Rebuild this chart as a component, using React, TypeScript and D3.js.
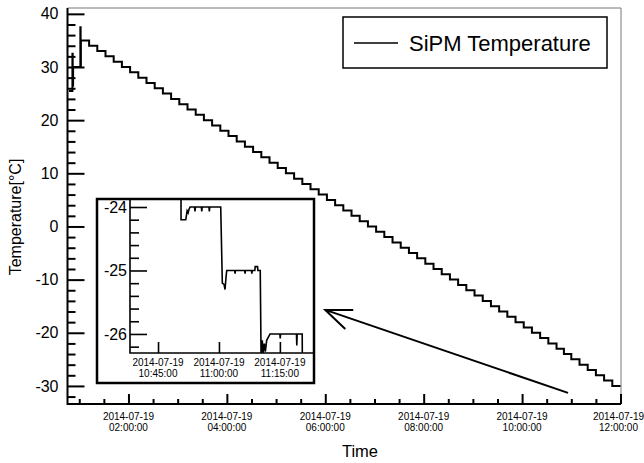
import React, { useEffect, useRef } from 'react';
import * as d3 from 'd3';

const DAY = '2014-07-19';
const FONT = '"Liberation Sans", Arial, Helvetica, sans-serif';

// noisy lead-in before the cool-down starts
const leadTimes = ['00:47:30', '00:51:00', '00:51:40', '00:52:00', '00:52:30', '01:01:00', '01:01:20', '01:01:40'];
const leadTemps = [25.5, 25.5, 32.5, 26.5, 30.0, 30.0, 37.5, 30.0];

// staircase: one level every ~10 minutes
const stepTimes = [
  '01:02', '01:12', '01:22', '01:32', '01:42', '01:52', '02:02', '02:12', '02:22', '02:32', '02:42',
  '02:52', '03:02', '03:12', '03:22', '03:32', '03:42', '03:52', '04:02', '04:12', '04:22', '04:32',
  '04:42', '04:52', '05:02', '05:12', '05:22', '05:32', '05:42', '05:52', '06:02', '06:12', '06:22',
  '06:32', '06:42', '06:52', '07:02', '07:12', '07:22', '07:32', '07:42', '07:52', '08:02', '08:12',
  '08:22', '08:32', '08:42', '08:52', '09:02', '09:12', '09:22', '09:32', '09:42', '09:52', '10:02',
  '10:12', '10:22', '10:32', '10:42', '10:51', '11:00', '11:10', '11:20', '11:30', '11:40', '11:50', '12:00',
];
const stepTemps = [
  35, 34, 33, 32, 31, 30, 29, 28, 27, 26, 25,
  24, 23, 22, 21, 20, 19, 18, 17, 16, 15, 14,
  13, 12, 11, 10, 9, 8, 7, 6, 5, 4, 3,
  2, 1, 0, -1, -2, -3, -4, -5, -6, -7, -8,
  -9, -10, -11, -12, -13, -14, -15, -16, -17, -18, -19,
  -20, -21, -22, -23, -24, -25, -26, -27, -28, -29, -30, -30,
];

// zoomed window, 10:40 - 11:21
const zoomTimes = [
  '10:40:00', '10:50:38', '10:50:40', '10:51:50', '10:52:10', '10:52:25', '10:52:40', '10:52:55',
  '10:54:00', '10:54:06', '10:54:12', '10:55:40', '10:55:46', '10:55:52', '10:57:32', '10:57:38',
  '10:57:44', '11:00:26', '11:00:50', '11:01:15', '11:01:30', '11:01:45', '11:01:55', '11:03:52',
  '11:03:58', '11:04:04', '11:06:20', '11:06:26', '11:06:32', '11:08:00', '11:08:06', '11:08:12',
  '11:08:50', '11:08:55', '11:09:30', '11:09:35', '11:10:10', '11:10:22', '11:10:40', '11:10:52',
  '11:11:10', '11:11:25', '11:11:45', '11:12:10', '11:12:35', '11:15:00', '11:15:05', '11:15:10',
  '11:19:05', '11:19:10', '11:19:15', '11:20:30', '11:20:32',
];
const zoomTemps = [
  -23.0, -23.0, -24.2, -24.2, -24.06, -24.09, -24.03, -24.0,
  -24.0, -24.07, -24.0, -24.0, -24.07, -24.0, -24.0, -24.07,
  -24.0, -24.0, -25.2, -25.22, -25.3, -25.1, -25.0, -25.0,
  -25.05, -25.0, -25.0, -25.05, -25.0, -25.0, -25.05, -25.0,
  -25.0, -24.94, -24.94, -25.0, -25.0, -26.32, -26.1, -26.3,
  -26.15, -26.28, -26.1, -26.05, -26.0, -26.0, -26.07, -26.0,
  -26.0, -26.18, -26.0, -26.0, -26.5,
];

const mainMajor = ['02:00:00', '04:00:00', '06:00:00', '08:00:00', '10:00:00', '12:00:00'];
const mainMinor = ['01:00:00', '01:30:00', '02:30:00', '03:00:00', '03:30:00', '04:30:00', '05:00:00', '05:30:00',
  '06:30:00', '07:00:00', '07:30:00', '08:30:00', '09:00:00', '09:30:00', '10:30:00', '11:00:00', '11:30:00'];
const zoomMajor = ['10:45:00', '11:00:00', '11:15:00'];
const tempMajor = [-30, -20, -10, 0, 10, 20, 30, 40];
const tempMinor = [-32, -28, -26, -24, -22, -18, -16, -14, -12, -8, -6, -4, -2, 2, 4, 6, 8, 12, 14, 16, 18, 22, 24, 26, 28, 32, 34, 36, 38];
const zoomTempMajor = [-26, -25, -24];
const zoomTempMinor = [-26.2, -25.8, -25.6, -25.4, -25.2, -24.8, -24.6, -24.4, -24.2];

const parse = d3.timeParse('%Y-%m-%d %H:%M:%S');
const t = (s: string) => parse(`${DAY} ${s.length === 5 ? s + ':00' : s}`) as Date;

export default function App() {
  const ref = useRef<SVGSVGElement>(null);

  useEffect(() => {
    const svg = d3.select(ref.current);
    svg.selectAll('*').remove();

    const x = d3.scaleTime().domain([t('00:45:40'), t('12:00:00')]).range([67.5, 620.5]);
    const y = d3.scaleLinear().domain([-33.4, 41.1]).range([404, 8]);

    // thin frame top / right
    svg.append('path')
      .attr('d', `M67.5,8H621V404`)
      .attr('fill', 'none').attr('stroke', '#777').attr('stroke-width', 1);

    const main = [
      ...leadTimes.map((s, i) => [t(s), leadTemps[i]] as [Date, number]),
      ...stepTimes.map((s, i) => [t(s), stepTemps[i]] as [Date, number]),
    ];
    const line = d3.line<[Date, number]>()
      .x(d => x(d[0]))
      .y(d => y(d[1]))
      .curve(d3.curveStepAfter);
    svg.append('path')
      .datum(main)
      .attr('d', line)
      .attr('fill', 'none').attr('stroke', '#000').attr('stroke-width', 2);

    // y axis, ticks pointing in
    const yMinor = svg.append('g').attr('transform', 'translate(67.5,0)')
      .call(d3.axisLeft(y).tickValues(tempMinor).tickSize(-8).tickFormat(() => ''));
    const yMajor = svg.append('g').attr('transform', 'translate(67.5,0)')
      .call(d3.axisLeft(y).tickValues(tempMajor).tickSize(-17).tickPadding(9).tickFormat(d => String(d)));
    [yMinor, yMajor].forEach(g => {
      g.selectAll('.domain').remove();
      g.selectAll('line').attr('stroke', '#000').attr('stroke-width', 2);
    });
    yMajor.selectAll('text').attr('font-family', FONT).attr('font-size', 16).attr('fill', '#000');

    // x axis
    const xMinor = svg.append('g').attr('transform', 'translate(0,404)')
      .call(d3.axisBottom(x).tickValues(mainMinor.map(t)).tickSize(-5).tickFormat(() => ''));
    const xMajor = svg.append('g').attr('transform', 'translate(0,404)')
      .call(d3.axisBottom(x).tickValues(mainMajor.map(t)).tickSize(-10).tickFormat(() => ''));
    [xMinor, xMajor].forEach(g => {
      g.selectAll('.domain').remove();
      g.selectAll('line').attr('stroke', '#000').attr('stroke-width', 2);
    });

    svg.append('path').attr('d', 'M67.5,8V404H621')
      .attr('fill', 'none').attr('stroke', '#000').attr('stroke-width', 2);

    // two-line date labels; the last one is nudged so it stays on the page
    const xLab = svg.append('g').attr('font-family', FONT).attr('font-size', 10).attr('text-anchor', 'middle');
    mainMajor.forEach(s => {
      const cx = Math.min(x(t(s)), 618.5);
      const txt = xLab.append('text');
      txt.append('tspan').attr('x', cx).attr('y', 420).text(DAY);
      txt.append('tspan').attr('x', cx).attr('y', 431).text(s);
    });

    svg.append('text').attr('x', 360).attr('y', 457)
      .attr('text-anchor', 'middle').attr('font-family', FONT).attr('font-size', 16.5).text('Time');
    svg.append('text').attr('transform', 'translate(21,217) rotate(-90)')
      .attr('text-anchor', 'middle').attr('font-family', FONT).attr('font-size', 16).text('Temperature[°C]');

    // legend
    svg.append('rect').attr('x', 343).attr('y', 17).attr('width', 264).attr('height', 51)
      .attr('fill', '#fff').attr('stroke', '#000').attr('stroke-width', 1.5);
    svg.append('line').attr('x1', 354).attr('x2', 398).attr('y1', 43).attr('y2', 43)
      .attr('stroke', '#000').attr('stroke-width', 1.6);
    svg.append('text').attr('x', 409).attr('y', 51).attr('font-family', FONT).attr('font-size', 22)
      .text('SiPM Temperature');

    // arrow pointing at the inset
    const tip: [number, number] = [x(t('06:00:00')), y(-15.7)];
    const tail: [number, number] = [x(t('10:56:00')), y(-31.3)];
    svg.append('path')
      .attr('d', `M${tail}L${tip}M${tip[0] + 28},${tip[1]}L${tip}L${tip[0] + 20},${tip[1] + 19}`)
      .attr('fill', 'none').attr('stroke', '#000').attr('stroke-width', 2);

    // inset
    const xi = d3.scaleTime().domain([t('10:38:06'), t('11:23:24')]).range([130, 314]);
    const yi = d3.scaleLinear().domain([-26.3, -23.874]).range([353, 199]);
    svg.append('rect').attr('x', 97).attr('y', 199).attr('width', 217).attr('height', 184)
      .attr('fill', '#fff').attr('stroke', '#000').attr('stroke-width', 2.5);

    svg.append('clipPath').attr('id', 'inset-clip')
      .append('rect').attr('x', 130).attr('y', 199).attr('width', 184).attr('height', 154);
    const zoomData = zoomTimes.map((s, i) => [t(s), zoomTemps[i]] as [Date, number]);
    svg.append('path')
      .datum(zoomData)
      .attr('clip-path', 'url(#inset-clip)')
      .attr('d', d3.line<[Date, number]>().x(d => xi(d[0])).y(d => yi(d[1])))
      .attr('fill', 'none').attr('stroke', '#000').attr('stroke-width', 1.6);

    const yiMinor = svg.append('g').attr('transform', 'translate(130,0)')
      .call(d3.axisLeft(yi).tickValues(zoomTempMinor).tickSize(-9).tickFormat(() => ''));
    const yiMajor = svg.append('g').attr('transform', 'translate(130,0)')
      .call(d3.axisLeft(yi).tickValues(zoomTempMajor).tickSize(-17).tickPadding(3).tickFormat(d => String(d)));
    const xiMajor = svg.append('g').attr('transform', 'translate(0,353)')
      .call(d3.axisBottom(xi).tickValues(zoomMajor.map(t)).tickSize(-11).tickFormat(() => ''));
    [yiMinor, yiMajor, xiMajor].forEach(g => {
      g.selectAll('.domain').remove();
      g.selectAll('line').attr('stroke', '#000').attr('stroke-width', 1.6);
    });
    yiMajor.selectAll('text').attr('font-family', FONT).attr('font-size', 16).attr('fill', '#000');

    svg.append('path').attr('d', 'M130,199V353H314')
      .attr('fill', 'none').attr('stroke', '#000').attr('stroke-width', 1.6);

    const xiLab = svg.append('g').attr('font-family', FONT).attr('font-size', 10).attr('text-anchor', 'middle');
    zoomMajor.forEach(s => {
      const txt = xiLab.append('text');
      txt.append('tspan').attr('x', xi(t(s))).attr('y', 366).text(DAY);
      txt.append('tspan').attr('x', xi(t(s))).attr('y', 377).text(s);
    });
  }, []);

  return (
    <svg
      ref={ref}
      width={644}
      height={463}
      style={{ position: 'absolute', left: 0, top: 0, background: '#fff' }}
    />
  );
}
